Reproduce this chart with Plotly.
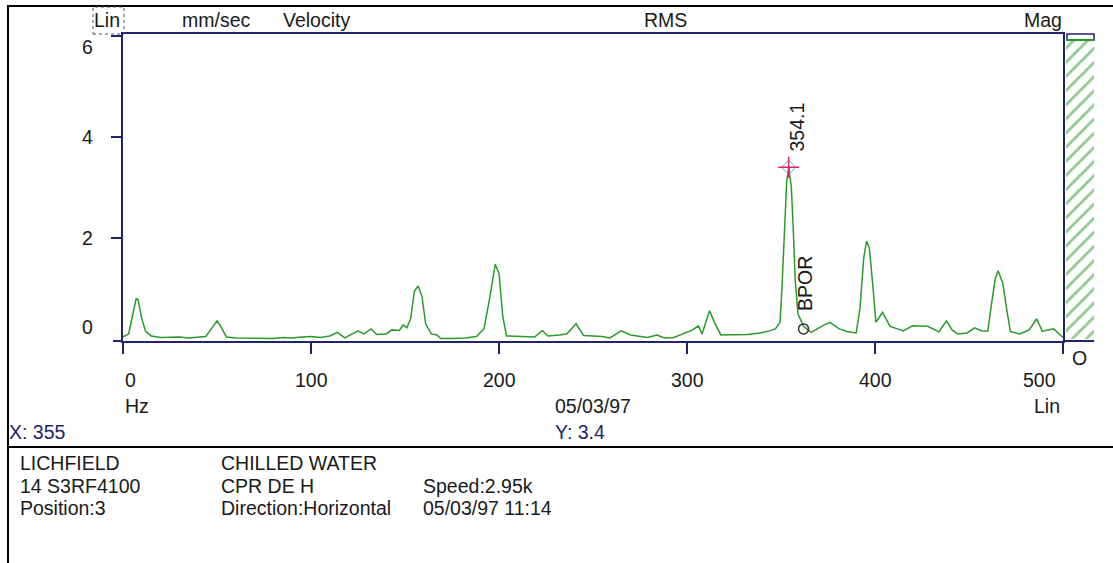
import plotly.graph_objects as go

# ---- spectrum data (velocity, mm/sec RMS vs frequency, Hz) ----
FREQ_HZ = [
    0, 3, 5, 7, 8, 10, 12, 15, 20, 25, 30, 35, 40, 44, 47, 50, 52, 55, 60, 70,
    80, 85, 90, 95, 100, 105, 110, 114, 118, 122, 125, 128, 132, 135, 140, 143,
    147, 149, 151, 153, 155, 157, 159, 161, 164, 167, 169, 175, 182, 188, 192,
    195, 198, 200, 202, 204, 210, 215, 219, 223, 226, 232, 236, 241, 245, 250,
    255, 259, 265, 270, 275, 279, 284, 288, 293, 298, 303, 306, 308, 312, 315,
    318, 325, 332, 339, 344, 347, 349.5, 350.5, 352, 353, 354.1, 355.5, 356.5,
    357.5, 359, 362, 366, 369, 373, 376, 381, 385, 390, 392, 394, 395.5, 397,
    399, 400.5, 404, 406, 408, 412, 415, 420, 428, 434, 438, 441, 444, 449, 453,
    457, 460, 462, 464, 465.5, 468, 470, 472, 477, 482, 486, 489, 492, 495, 498,
    500,
]
VELOCITY_RMS = [
    0.04, 0.10, 0.45, 0.80, 0.78, 0.40, 0.15, 0.06, 0.03, 0.04, 0.04, 0.02, 0.03,
    0.05, 0.20, 0.36, 0.25, 0.04, 0.02, 0.01, 0.01, 0.03, 0.02, 0.04, 0.05, 0.03,
    0.06, 0.13, 0.02, 0.10, 0.16, 0.10, 0.20, 0.09, 0.10, 0.18, 0.17, 0.28, 0.22,
    0.40, 0.95, 1.05, 0.85, 0.30, 0.10, 0.08, 0.01, 0.01, 0.02, 0.05, 0.20, 0.80,
    1.48, 1.30, 0.45, 0.06, 0.05, 0.05, 0.04, 0.17, 0.06, 0.08, 0.10, 0.30, 0.07,
    0.06, 0.05, 0.02, 0.16, 0.08, 0.06, 0.03, 0.08, 0.02, 0.03, 0.10, 0.18, 0.26,
    0.10, 0.56, 0.30, 0.08, 0.08, 0.09, 0.12, 0.16, 0.20, 0.33, 1.00, 2.30, 3.10,
    3.40, 3.00, 2.20, 1.20, 0.50, 0.25, 0.13, 0.20, 0.28, 0.33, 0.20, 0.15, 0.12,
    0.60, 1.60, 1.94, 1.80, 1.00, 0.33, 0.53, 0.38, 0.25, 0.20, 0.16, 0.26, 0.25,
    0.14, 0.36, 0.18, 0.10, 0.12, 0.22, 0.16, 0.16, 0.70, 1.20, 1.35, 1.10, 0.60,
    0.15, 0.10, 0.18, 0.40, 0.15, 0.18, 0.20, 0.10, 0.03,
]

X_TICKS = [0, 100, 200, 300, 400, 500]
Y_TICKS = [0, 2, 4, 6]

PEAK_FREQ = 354.1
PEAK_AMP = 3.4
CURSOR_X = 355
BPOR_FREQ = 362
BPOR_AMP = 0.2
MAG_LEVEL = 5.92

HEADER = ["Lin", "mm/sec", "Velocity", "RMS", "Mag"]
INFO_ROWS = [
    ["LICHFIELD", "CHILLED WATER", ""],
    ["14 S3RF4100", "CPR DE H", "Speed:2.95k"],
    ["Position:3", "Direction:Horizontal", "05/03/97 11:14"],
]

# ---- styling ----
W, H = 1113, 563
GREEN = "#2a9a2a"
NAVY = "#23236b"
INK = "#1a1a1a"
FONT = "Liberation Sans, Arial, sans-serif"
FS = 19.5


def px(x):
    return x / W


def py(y):
    return 1 - y / H


fig = go.Figure()

fig.add_trace(go.Scatter(
    x=FREQ_HZ, y=VELOCITY_RMS, mode="lines",
    line=dict(color=GREEN, width=1.5), xaxis="x", yaxis="y",
    hoverinfo="skip", showlegend=False,
))

# overall magnitude bar (hatched)
fig.add_trace(go.Bar(
    x=[0.5], y=[MAG_LEVEL], width=1, xaxis="x2", yaxis="y",
    marker=dict(color="white", line=dict(width=0),
                pattern=dict(shape="/", fgcolor="#1f931f", bgcolor="white",
                             size=10, solidity=0.28)),
    hoverinfo="skip", showlegend=False,
))

# BPOR marker
fig.add_trace(go.Scatter(
    x=[BPOR_FREQ], y=[BPOR_AMP], mode="markers",
    marker=dict(symbol="circle-open", size=10, color="#333333", line=dict(width=1.5)),
    hoverinfo="skip", showlegend=False,
))

# peak cursor
fig.add_trace(go.Scatter(
    x=[PEAK_FREQ], y=[PEAK_AMP], mode="markers",
    marker=dict(symbol="diamond-open", size=11, color="#30c8c0", line=dict(width=1)),
    hoverinfo="skip", showlegend=False,
))
fig.add_trace(go.Scatter(
    x=[PEAK_FREQ], y=[PEAK_AMP], mode="markers",
    marker=dict(symbol="cross-thin-open", size=15, color="#e0206e", line=dict(width=1.5)),
    hoverinfo="skip", showlegend=False,
))

ann = []


def text(x, y, s, xanchor="left", color=INK, size=FS, **kw):
    d = dict(x=x, y=y, text=s, showarrow=False, xanchor=xanchor, yanchor="middle",
             font=dict(family=FONT, size=size, color=color))
    d.setdefault("xref", "paper")
    d.setdefault("yref", "paper")
    d.update(kw)
    ann.append(d)


# header row
text(px(107), py(20), HEADER[0], xanchor="center")
text(px(180), py(20), HEADER[1])
text(px(281), py(20), HEADER[2])
text(px(665), py(20), HEADER[3], xanchor="center")
text(px(1043), py(20), HEADER[4], xanchor="center")

# y tick labels
y_shift = {0: 12, 2: 0, 4: 0, 6: -11}
for v in Y_TICKS:
    text(px(95), v, str(v), xanchor="right", yref="y", yshift=y_shift[v])

# x tick labels
for v in X_TICKS:
    if v == X_TICKS[0]:
        text(v, py(380), str(v), xanchor="left", xref="x", xshift=0)
    elif v == X_TICKS[-1]:
        text(v, py(380), str(v), xanchor="right", xref="x", xshift=-5)
    else:
        text(v, py(380), str(v), xanchor="center", xref="x")

text(px(123), py(406), "Hz")
text(px(593), py(406), "05/03/97", xanchor="center")
text(px(1062), py(406), "Lin", xanchor="right")
text(px(7), py(432), f"X: {CURSOR_X}", color=NAVY)
text(px(580), py(432), f"Y: {PEAK_AMP}", color=NAVY, xanchor="center")
text(px(1079), py(358), "O", xanchor="center")

# rotated markers' labels
ann.append(dict(x=PEAK_FREQ, y=PEAK_AMP, xref="x", yref="y", text=f"{PEAK_FREQ}",
                textangle=-90, showarrow=False, xanchor="center", yanchor="bottom",
                xshift=8, yshift=14, font=dict(family=FONT, size=FS, color=INK)))
ann.append(dict(x=BPOR_FREQ, y=BPOR_AMP, xref="x", yref="y", text="BPOR",
                textangle=-90, showarrow=False, xanchor="center", yanchor="bottom",
                xshift=2, yshift=16, font=dict(family=FONT, size=FS, color=INK)))

# info block
col_x = [18, 219, 421]
row_y = [463, 486, 508]
for r, row in enumerate(INFO_ROWS):
    for c, s in enumerate(row):
        if s:
            text(px(col_x[c]), py(row_y[r]), s)

shapes = []


def seg(x0, y0, x1, y1, color="black", width=2, dash="solid"):
    shapes.append(dict(type="line", xref="paper", yref="paper",
                       x0=px(x0), y0=py(y0), x1=px(x1), y1=py(y1),
                       line=dict(color=color, width=width, dash=dash)))


# outer frame and divider
seg(8, 6, W, 6)
seg(8, 5, 8, H)
seg(8, 447, W, 447)
# axis extensions
seg(113, 341, 123, 341, color=NAVY)
seg(1063, 341, 1094, 341, color=NAVY)
# dotted box around scale label
shapes.append(dict(type="rect", xref="paper", yref="paper",
                   x0=px(93), x1=px(124), y0=py(34), y1=py(7),
                   line=dict(color="#555555", width=1, dash="dot")))
# magnitude bar cap
shapes.append(dict(type="rect", xref="paper", yref="paper",
                   x0=px(1067), x1=px(1094), y0=py(40), y1=py(34),
                   line=dict(color=NAVY, width=1.5)))
shapes.append(dict(type="line", xref="x2", yref="y", x0=0, x1=1,
                   y0=MAG_LEVEL, y1=MAG_LEVEL, line=dict(color=GREEN, width=2)))

fig.update_layout(
    width=W, height=H,
    margin=dict(l=0, r=0, t=0, b=0),
    paper_bgcolor="white", plot_bgcolor="white",
    showlegend=False,
    annotations=ann, shapes=shapes,
    xaxis=dict(domain=[px(123), px(1063)], range=[0, 500], anchor="y",
               showgrid=False, zeroline=False, showline=True, mirror=True,
               linecolor=NAVY, linewidth=2,
               tickvals=X_TICKS, ticks="outside", ticklen=11, tickwidth=2,
               tickcolor=NAVY, showticklabels=False, fixedrange=True),
    yaxis=dict(domain=[py(341), py(34)], range=[-0.04, 6.04], anchor="x",
               showgrid=False, zeroline=False, showline=True, mirror=True,
               linecolor=NAVY, linewidth=2,
               tickvals=Y_TICKS[1:], ticks="outside", ticklen=10, tickwidth=2,
               tickcolor=NAVY, showticklabels=False, fixedrange=True),
    xaxis2=dict(domain=[px(1066), px(1094)], range=[0, 1], anchor="y",
                visible=False, fixedrange=True),
    bargap=0,
)

fig.write_html("out.html")
